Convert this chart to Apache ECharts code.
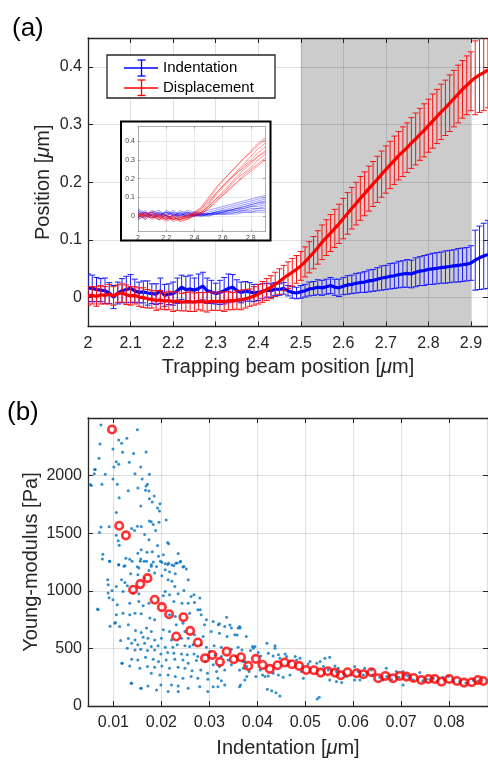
<!DOCTYPE html>
<html><head><meta charset="utf-8">
<script src="https://cdn.jsdelivr.net/npm/echarts@6/dist/echarts.min.js"></script>
<style>html,body{margin:0;padding:0;background:#fff}#c{width:488px;height:761px}</style>
</head><body><div id="c"></div><script>
// ---------- Panel (a) data ----------
const beamPos = [2.00,2.01,2.02,2.03,2.04,2.05,2.06,2.07,2.08,2.09,2.10,2.11,2.12,2.13,2.14,2.15,2.16,2.17,2.18,2.19,
2.20,2.21,2.22,2.23,2.24,2.25,2.26,2.27,2.28,2.29,2.30,2.31,2.32,2.33,2.34,2.35,2.36,2.37,2.38,2.39,
2.40,2.41,2.42,2.43,2.44,2.45,2.46,2.47,2.48,2.49,2.50,2.51,2.52,2.53,2.54,2.55,2.56,2.57,2.58,2.59,
2.60,2.61,2.62,2.63,2.64,2.65,2.66,2.67,2.68,2.69,2.70,2.71,2.72,2.73,2.74,2.75,2.76,2.77,2.78,2.79,
2.80,2.81,2.82,2.83,2.84,2.85,2.86,2.87,2.88,2.89,2.90,2.91,2.92,2.93,2.94];
const dispMean = [0.003,0.004,0.002,0.005,0.004,0.006,0.003,0.007,0.008,0.005,0.003,0.004,0.001,0.000,-0.002,-0.003,-0.005,-0.004,-0.006,-0.005,
-0.007,-0.006,-0.008,-0.007,-0.007,-0.008,-0.006,-0.007,-0.008,-0.006,-0.007,-0.006,-0.007,-0.005,-0.006,-0.004,-0.004,-0.002,0.000,0.003,
0.006,0.010,0.014,0.018,0.023,0.028,0.034,0.039,0.044,0.049,0.055,0.062,0.070,0.078,0.087,0.096,0.104,0.112,0.120,0.128,
0.137,0.146,0.155,0.163,0.172,0.180,0.189,0.197,0.205,0.214,0.222,0.230,0.238,0.246,0.253,0.260,0.268,0.275,0.283,0.290,
0.298,0.306,0.314,0.322,0.329,0.337,0.345,0.353,0.361,0.368,0.375,0.381,0.386,0.390,0.395];
const dispErr = [0.016,0.015,0.017,0.016,0.015,0.017,0.016,0.015,0.016,0.017,0.016,0.015,0.016,0.017,0.016,0.015,0.017,0.016,0.015,0.016,
0.017,0.016,0.015,0.016,0.017,0.016,0.015,0.016,0.017,0.016,0.015,0.016,0.017,0.016,0.015,0.016,0.017,0.016,0.015,0.016,0.017,
0.018,0.019,0.020,0.021,0.022,0.022,0.023,0.024,0.024,0.025,
0.026,0.027,0.028,0.029,0.030,0.031,0.032,0.033,0.034,0.035,
0.036,0.036,0.037,0.038,0.038,0.039,0.039,0.040,0.040,0.041,
0.041,0.042,0.042,0.043,0.043,0.044,0.045,0.045,0.046,0.046,
0.047,0.047,0.048,0.048,0.049,0.049,0.050,0.050,0.051,0.051,
0.064,0.065,0.066,0.066];
const indMean = [0.017,0.016,0.014,0.013,0.012,0.008,0.001,0.008,0.012,0.014,0.016,0.012,0.009,0.010,0.008,0.007,0.006,0.012,0.004,0.006,
0.007,0.012,0.018,0.014,0.015,0.013,0.016,0.020,0.012,0.010,0.007,0.009,0.012,0.016,0.018,0.012,0.009,0.011,0.010,0.008,
0.009,0.011,0.013,0.012,0.015,0.014,0.016,0.012,0.009,0.008,0.010,0.012,0.015,0.016,0.018,0.017,0.019,0.021,0.018,0.017,
0.020,0.022,0.023,0.025,0.026,0.027,0.029,0.030,0.032,0.034,0.035,0.037,0.038,0.040,0.041,0.042,0.041,0.044,0.046,0.047,
0.049,0.050,0.051,0.052,0.053,0.054,0.055,0.056,0.057,0.058,0.060,0.065,0.069,0.072,0.075];
const indErr = [0.024,0.023,0.021,0.020,0.022,0.018,0.020,0.019,0.021,0.023,0.024,0.020,0.018,0.019,0.021,0.017,0.018,0.022,0.019,0.018,
0.020,0.022,0.021,0.023,0.024,0.021,0.025,0.024,0.022,0.020,0.018,0.021,0.023,0.025,0.022,0.019,0.018,0.017,0.016,0.015,
0.014,0.013,0.012,0.012,0.011,0.010,0.010,0.009,0.010,
0.010,0.011,0.011,0.012,0.012,0.013,0.013,0.013,0.014,0.014,0.015,0.015,
0.016,0.016,0.017,0.017,0.018,0.019,0.019,0.020,0.021,0.021,
0.022,0.022,0.023,0.023,0.024,0.024,0.025,0.025,0.026,0.026,
0.027,0.027,0.027,0.028,0.028,0.028,0.029,0.029,0.029,0.030,
0.052,0.055,0.057,0.059];
const shadedRange = [2.5, 2.9];

// ---------- Inset data (individual traces) ----------
const insetPos = [2.00,2.05,2.10,2.15,2.20,2.25,2.30,2.35,2.40,2.45,2.50,2.55,2.60,2.65,2.70,2.75,2.80,2.85,2.90];
const insetDisp = [
 [0.01,-0.01,0.02,0.00,-0.02,0.01,-0.01,0.00,0.01,0.04,0.09,0.14,0.19,0.23,0.27,0.31,0.35,0.39,0.42],
 [-0.01,0.02,0.00,-0.02,0.01,-0.02,0.00,-0.01,0.02,0.05,0.10,0.15,0.19,0.23,0.27,0.31,0.34,0.38,0.41],
 [0.02,0.00,-0.01,0.01,-0.01,0.00,-0.03,-0.01,0.01,0.03,0.07,0.12,0.16,0.20,0.24,0.28,0.32,0.36,0.39],
 [0.00,0.01,-0.02,0.00,0.01,-0.02,-0.01,0.01,0.00,0.02,0.06,0.11,0.15,0.19,0.23,0.27,0.30,0.34,0.37],
 [0.01,-0.02,0.01,-0.01,-0.03,-0.01,-0.02,0.00,0.01,0.02,0.05,0.09,0.13,0.17,0.21,0.25,0.28,0.32,0.35],
 [-0.02,0.00,0.01,-0.01,0.00,-0.03,-0.02,-0.01,0.00,0.02,0.05,0.09,0.12,0.16,0.20,0.23,0.26,0.30,0.33],
 [0.00,0.02,-0.01,0.00,-0.02,0.00,-0.03,-0.02,0.00,0.01,0.04,0.08,0.11,0.15,0.18,0.22,0.25,0.28,0.31],
 [0.01,0.00,0.00,-0.02,-0.01,-0.02,-0.01,-0.02,0.01,0.01,0.04,0.07,0.11,0.14,0.18,0.21,0.24,0.27,0.30],
 [-0.01,0.01,0.02,0.00,-0.02,-0.01,-0.02,0.00,0.02,0.04,0.08,0.12,0.16,0.20,0.23,0.26,0.29,0.32,0.34]
];
const insetInd = [
 [0.03,0.01,0.02,-0.01,0.02,0.00,0.03,0.01,0.02,0.02,0.03,0.04,0.05,0.06,0.07,0.08,0.09,0.10,0.11],
 [-0.01,0.02,0.00,0.01,-0.02,0.01,0.00,0.02,0.00,0.01,0.02,0.03,0.04,0.05,0.06,0.07,0.08,0.09,0.10],
 [0.02,-0.02,0.01,0.02,0.00,-0.01,0.02,-0.01,0.01,0.00,0.01,0.02,0.03,0.04,0.05,0.06,0.07,0.08,0.09],
 [0.00,0.03,-0.01,0.00,0.02,0.01,-0.02,0.01,0.00,0.01,0.01,0.02,0.03,0.03,0.04,0.05,0.06,0.07,0.08],
 [0.04,0.01,0.02,0.03,0.00,0.02,0.01,0.03,0.02,0.01,0.01,0.02,0.02,0.03,0.04,0.05,0.06,0.07,0.075],
 [-0.02,0.00,-0.01,0.01,-0.01,0.00,0.01,-0.01,0.00,0.00,0.01,0.01,0.02,0.03,0.04,0.04,0.05,0.06,0.07],
 [0.01,0.02,0.00,-0.02,0.01,0.03,0.00,0.02,0.01,0.01,0.01,0.02,0.02,0.03,0.03,0.04,0.05,0.05,0.06],
 [0.02,0.00,0.03,0.01,0.02,0.00,0.02,0.00,0.01,0.01,0.01,0.01,0.02,0.02,0.03,0.03,0.04,0.04,0.05],
 [-0.01,0.01,0.00,0.02,0.00,-0.02,0.01,0.00,0.00,0.00,0.00,0.01,0.01,0.02,0.02,0.03,0.03,0.04,0.04],
 [0.03,0.00,0.01,0.00,0.03,0.01,0.00,0.02,0.01,0.00,0.01,0.01,0.01,0.01,0.02,0.02,0.02,0.03,0.03],
 [0.00,-0.01,0.02,0.01,0.00,0.02,-0.01,0.01,0.00,0.01,0.00,0.01,0.01,0.01,0.01,0.02,0.02,0.02,0.02]
];

// ---------- Panel (b) data ----------
const modIndent = [0.0097,0.0112,0.0126,0.0141,0.0156,0.0171,0.0186,0.0201,0.0216,0.0231,0.0246,0.0260,0.0276,0.0291,0.0306,0.0322,0.0336,0.0351,0.0366,0.0381,0.0397,
0.0411,0.0426,0.0442,0.0457,0.0472,0.0487,0.0502,0.0518,0.0532,0.0547,0.0562,0.0574,0.0588,0.0607,0.0621,0.0638,0.0652,0.0667,0.0683,0.0697,
0.0711,0.0726,0.0742,0.0757,0.0770,0.0784,0.0800,0.0816,0.0831,0.0847,0.0860,0.0871];
const modYoung = [2400,1565,1481,1009,1058,1110,922,858,797,603,771,652,551,415,443,383,472,406,423,348,409,356,322,354,377,362,348,313,310,290,
302,290,267,293,284,276,293,241,261,241,261,255,243,226,235,235,211,235,217,203,206,226,217];
const cloudPoints = [
[0.0074,2440],[0.0150,2397],[0.0128,2324],[0.0111,2310],[0.0117,2281],[0.0072,2275],[0.0099,2231],[0.0119,2202],[0.0142,2191],[0.0168,2205],[0.0070,2150],[0.0106,2121],[0.0133,2115],[0.0111,2098],[0.0101,2075],[0.0157,2075],[0.0061,2052],[0.0060,2017],[0.0083,2011],[0.0145,2017],[0.0175,2011],[0.0099,1970],[0.0160,1970],[0.0054,1915],[0.0076,1924],[0.0108,1924],[0.0171,1924],[0.0168,1909],[0.0151,1892],[0.0131,1869],[0.0167,1872],[0.0174,1866],[0.0185,1822],[0.0112,1808],[0.0175,1799],[0.0181,1770],[0.0197,1756],[0.0157,1736],[0.0192,1718],[0.0196,1692],[0.0106,1680],[0.0210,1614],[0.0175,1605],[0.0179,1599],[0.0195,1596],[0.0183,1576],[0.0150,1561],[0.0158,1559],[0.0074,1553],[0.0091,1556],[0.0138,1541],[0.0144,1524],[0.0188,1524],[0.0106,1483],[0.0165,1489],[0.0174,1443],[0.0110,1434],[0.0213,1419],[0.0215,1408],[0.0112,1396],[0.0192,1393],[0.0158,1356],[0.0170,1335],[0.0181,1338],[0.0151,1327],[0.0078,1318],[0.0204,1312],[0.0235,1324],[0.0194,1300],[0.0126,1283],[0.0134,1274],[0.0157,1277],[0.0092,1257],[0.0156,1257],[0.0169,1257],[0.0183,1251],[0.0198,1257],[0.0239,1251],[0.0111,1225],[0.0122,1213],[0.0150,1208],[0.0179,1213],[0.0208,1234],[0.0215,1240],[0.0222,1225],[0.0230,1240],[0.0247,1211],
[0.0052,1922],[0.0062,2052],[0.0067,841],[0.0088,1096],[0.0091,939],[0.0093,692],[0.0071,1506],[0.0077,1277],[0.0118,371],[0.0104,724],[0.0137,197],[0.0157,154],
[0.0092,1256],[0.0111,1229],[0.0124,1218],[0.0139,1256],[0.0153,1198],[0.0164,1256],[0.0179,1227],[0.0190,1212],[0.0201,1247],[0.0213,1229],[0.0226,1218],[0.0233,1241],[0.0240,1256],[0.0245,1206],[0.0252,1189],[0.0208,1183],[0.0217,1166],[0.0229,1148],[0.0174,1177],[0.0186,1154],[0.0201,1131],[0.0136,1148],[0.0151,1140],[0.0165,1111],[0.0117,1096],[0.0124,1073],[0.0106,1038],[0.0097,1003],[0.0089,1053],[0.0129,1044],[0.0120,995],[0.0141,980],[0.0153,974],[0.0214,1096],[0.0222,1082],[0.0228,1038],[0.0256,1096],[0.0247,1003],[0.0208,995],[0.0235,974],[0.0217,966],[0.0262,951],[0.0268,966],[0.0280,937],[0.0099,922],[0.0089,980],[0.0068,835],[0.0108,879],[0.0134,893],[0.0153,908],[0.0162,870],[0.0174,893],[0.0226,908],[0.0243,893],[0.0256,893],[0.0269,899],[0.0276,835],[0.0204,957],[0.0106,792],[0.0120,806],[0.0134,792],[0.0145,806],[0.0158,800],[0.0176,763],[0.0186,748],[0.0217,792],[0.0229,777],[0.0259,806],[0.0283,792],[0.0294,748],[0.0103,719],[0.0113,690],[0.0131,705],[0.0146,655],[0.0158,638],[0.0169,676],[0.0179,647],[0.0204,661],[0.0217,647],[0.0245,719],[0.0249,647],[0.0231,705],[0.0290,705],[0.0308,734],[0.0319,705],[0.0332,690],[0.0346,676],[0.0363,690],[0.0353,618],[0.0337,603],[0.0321,632],[0.0304,647],[0.0287,603],[0.0269,618],[0.0256,589],[0.0242,589],[0.0221,574],[0.0200,589],[0.0186,574],[0.0172,589],[0.0162,597],[0.0145,574],[0.0131,586],[0.0115,568],[0.0138,545],[0.0151,531],[0.0165,545],[0.0179,516],[0.0193,522],[0.0208,510],[0.0224,510],[0.0233,531],[0.0249,522],[0.0259,516],[0.0266,531],[0.0283,531],[0.0294,510],[0.0310,522],[0.0325,510],[0.0346,493],[0.0360,510],[0.0129,502],[0.0145,487],[0.0157,493],[0.0171,481],[0.0186,487],[0.0199,452],[0.0213,464],[0.0226,458],[0.0242,452],[0.0254,444],[0.0268,452],[0.0276,429],[0.0301,473],[0.0312,444],[0.0325,429],[0.0339,400],[0.0356,429],[0.0370,386],[0.0138,406],[0.0151,400],[0.0167,423],[0.0183,406],[0.0194,386],[0.0210,400],[0.0228,406],[0.0245,400],[0.0256,371],[0.0273,394],[0.0292,386],[0.0308,357],[0.0321,342],[0.0346,357],[0.0118,371],[0.0134,348],[0.0155,328],[0.0171,342],[0.0186,336],[0.0201,348],[0.0217,328],[0.0235,336],[0.0249,328],[0.0264,307],[0.0282,313],[0.0296,284],[0.0315,299],[0.0332,313],[0.0363,313],[0.0179,284],[0.0197,270],[0.0214,270],[0.0229,255],[0.0245,241],[0.0262,255],[0.0276,241],[0.0297,232],[0.0318,241],[0.0325,220],[0.0138,197],[0.0158,154],[0.0172,174],[0.0199,183],[0.0221,183],[0.0235,174],[0.0256,154],[0.0280,168],[0.0297,125],[0.0308,168],[0.0318,168],[0.0332,183],[0.0363,168],[0.0235,125],[0.0214,125],[0.0190,139],
[0.0336,771],[0.0321,713],[0.0360,676],[0.0358,617],[0.0281,835],[0.0343,704],[0.0377,603],[0.0392,502],[0.0378,255],
[0.0364,676],[0.0368,487],[0.0371,328],[0.0365,183],[0.0390,516],[0.0395,516],[0.0386,481],[0.0402,464],[0.0407,435],[0.0420,545],[0.0423,458],[0.0437,522],[0.0437,502],[0.0433,435],[0.0444,444],[0.0447,415],[0.0458,452],[0.0461,429],[0.0468,386],[0.0479,429],[0.0482,400],[0.0489,415],[0.0416,255],[0.0423,261],[0.0433,284],[0.0444,270],[0.0454,249],[0.0468,270],[0.0492,299],[0.0496,241],[0.0510,386],[0.0506,365],[0.0524,371],[0.0531,386],[0.0541,415],[0.0551,423],[0.0538,342],[0.0548,313],[0.0562,348],[0.0569,328],[0.0551,226],[0.0565,212],[0.0576,203],[0.0586,255],[0.0603,342],[0.0610,299],[0.0621,270],[0.0624,328],[0.0638,313],[0.0603,226],[0.0614,226],[0.0669,328],[0.0662,226],[0.0676,270],[0.0690,299],[0.0704,299],[0.0704,183],[0.0715,261],[0.0725,226],[0.0739,290],[0.0753,232],[0.0767,241],[0.0787,249],[0.0798,255],[0.0808,226],[0.0822,212],[0.0850,226],[0.0421,145],[0.0430,133],[0.0439,116],[0.0447,87],[0.0525,61],[0.0529,75],[0.0374,386],[0.0378,342],[0.0383,299],[0.0397,255],[0.0374,226],[0.0406,313],[0.0411,270],
[0.0640,270],[0.0655,250],[0.0680,230],[0.0695,250],[0.0720,240],[0.0745,220],[0.0760,230],[0.0775,215],[0.0790,225],[0.0810,210],[0.0835,200],[0.0860,215],[0.0565,300],[0.0580,280],[0.0595,270],[0.0630,290],[0.0670,255],[0.0710,270]
];

// ---------- Tick labels ----------
const aXTicks = [2,2.1,2.2,2.3,2.4,2.5,2.6,2.7,2.8,2.9];
const aYTicks = [0,0.1,0.2,0.3,0.4];
const bXTicks = [0.01,0.02,0.03,0.04,0.05,0.06,0.07,0.08];
const bYTicks = [0,500,1000,1500,2000];
const inXTicks = [2,2.2,2.4,2.6,2.8];
const inYTicks = [0,0.1,0.2,0.3,0.4];

// ---------- Build chart ----------
const FONT = "'Liberation Sans', Arial, Helvetica, sans-serif";
const AX = '#262626';
const GRIDC = 'rgba(38,38,38,0.15)';
const fmt1 = v => (Math.abs(v) < 1e-9 ? '0' : (Math.abs(v - Math.round(v)) < 1e-9 ? String(Math.round(v)) : v.toFixed(1)));
const fmt2 = v => v.toFixed(2);
const fmt0 = v => String(Math.round(v));

function axis(dim, o) {
  const a = {
    type: 'value', gridIndex: o.grid, position: o.pos, min: o.min, max: o.max, z: o.z || 1,
    axisLine: { show: true, onZero: false, lineStyle: { color: o.lineColor || AX, width: o.lineWidth || 1.3 } },
    axisTick: { show: true, inside: true, length: o.tickLen || 5, customValues: o.ticks, lineStyle: { color: o.lineColor || AX, width: 1 } },
    axisLabel: { show: !!o.label, customValues: o.ticks, formatter: o.fmt, fontSize: o.fontSize || 16, color: o.labelColor || AX, fontFamily: FONT, margin: o.margin || 7 },
    splitLine: { show: !!o.split, lineStyle: { color: o.splitColor || GRIDC, width: 1 } }
  };
  if (o.name) {
    a.name = o.name; a.nameLocation = 'middle'; a.nameGap = o.nameGap; a.nameMoveOverlap = false;
    a.nameTextStyle = { fontSize: 20, color: AX, fontFamily: FONT, rich: { mu: { fontSize: 20, fontStyle: 'italic', color: AX, fontFamily: FONT } } };
  }
  return a;
}

function errBars(xs, mean, err, color, xi, yi, z) {
  return {
    type: 'custom', xAxisIndex: xi, yAxisIndex: yi, z: z, clip: true, silent: true,
    encode: { x: 0, y: [1, 2] },
    data: xs.map((x, i) => [x, mean[i] - err[i], mean[i] + err[i]]),
    renderItem: function (params, api) {
      const x = api.value(0);
      const lo = api.coord([x, api.value(1)]);
      const hi = api.coord([x, api.value(2)]);
      const w = 3;
      const st = { stroke: color, lineWidth: 1 };
      return { type: 'group', children: [
        { type: 'line', shape: { x1: lo[0], y1: lo[1], x2: hi[0], y2: hi[1] }, style: st },
        { type: 'line', shape: { x1: lo[0] - w, y1: lo[1], x2: lo[0] + w, y2: lo[1] }, style: st },
        { type: 'line', shape: { x1: hi[0] - w, y1: hi[1], x2: hi[0] + w, y2: hi[1] }, style: st }
      ]};
    }
  };
}

const chart = echarts.init(document.getElementById('c'), null, { renderer: 'canvas' });

const series = [];
series.push({
  type: 'custom', xAxisIndex: 0, yAxisIndex: 0, z: 0, silent: true, clip: true,
  data: [shadedRange],
  renderItem: function (params, api) {
    const p1 = api.coord([api.value(0), 0]);
    const p2 = api.coord([api.value(1), 0]);
    const cs = params.coordSys;
    return { type: 'rect', shape: { x: p1[0], y: cs.y, width: p2[0] - p1[0], height: cs.height }, style: { fill: '#cccccc' } };
  }
});
series.push(errBars(beamPos, indMean, indErr, '#1a1aff', 0, 0, 2));
series.push({ type: 'line', xAxisIndex: 0, yAxisIndex: 0, z: 3, symbol: 'none', silent: true,
  data: beamPos.map((x, i) => [x, indMean[i]]), lineStyle: { color: '#0000ff', width: 3.2 } });
series.push(errBars(beamPos, dispMean, dispErr, '#ff1010', 0, 0, 4));
series.push({ type: 'line', xAxisIndex: 0, yAxisIndex: 0, z: 5, symbol: 'none', silent: true,
  data: beamPos.map((x, i) => [x, dispMean[i]]), lineStyle: { color: '#ff0000', width: 3.2 } });

insetInd.forEach(tr => series.push({ type: 'line', xAxisIndex: 4, yAxisIndex: 4, z: 12, symbol: 'none', silent: true,
  data: insetPos.map((x, i) => [x, tr[i]]), lineStyle: { color: 'rgba(0,0,255,0.55)', width: 0.7 } }));
insetDisp.forEach(tr => series.push({ type: 'line', xAxisIndex: 4, yAxisIndex: 4, z: 13, symbol: 'none', silent: true,
  data: insetPos.map((x, i) => [x, tr[i]]), lineStyle: { color: 'rgba(255,0,0,0.6)', width: 0.7 } }));

series.push({ type: 'scatter', xAxisIndex: 2, yAxisIndex: 2, z: 2, silent: true, symbol: 'circle', symbolSize: 3,
  data: cloudPoints, itemStyle: { color: '#0072bd' } });
series.push({ type: 'scatter', xAxisIndex: 2, yAxisIndex: 2, z: 3, silent: true, symbol: 'circle', symbolSize: 7.5,
  data: modIndent.map((x, i) => [x, modYoung[i]]),
  itemStyle: { color: 'rgba(255,255,255,0)', borderColor: '#ff0000', borderWidth: 2.6 } });

const option = {
  animation: false,
  backgroundColor: '#ffffff',
  textStyle: { fontFamily: FONT },
  grid: [
    { left: 88, top: 38, width: 401, height: 288.5 },
    { left: 88, top: 418, width: 401, height: 288 },
    { left: 138, top: 126.5, width: 127, height: 105, z: 11 }
  ],
  xAxis: [
    axis('x', { grid: 0, pos: 'bottom', min: 2, max: 2.94, ticks: aXTicks, fmt: fmt1, label: true, split: true, margin: 9,
      name: 'Trapping beam position [{mu|μ}m]', nameGap: 31 }),
    axis('x', { grid: 0, pos: 'top', min: 2, max: 2.94, ticks: aXTicks }),
    axis('x', { grid: 1, pos: 'bottom', min: 0.0047, max: 0.0881, ticks: bXTicks, fmt: fmt2, label: true, split: true, margin: 9,
      name: 'Indentation [{mu|μ}m]', nameGap: 32 }),
    axis('x', { grid: 1, pos: 'top', min: 0.0047, max: 0.0881, ticks: bXTicks }),
    axis('x', { grid: 2, pos: 'bottom', min: 2, max: 2.9, ticks: inXTicks, fmt: fmt1, label: true, split: true, z: 11,
      fontSize: 7, margin: 3, tickLen: 2, lineColor: '#9a9a9a', lineWidth: 0.8, labelColor: '#444', splitColor: 'rgba(38,38,38,0.1)' }),
    axis('x', { grid: 2, pos: 'top', min: 2, max: 2.9, ticks: inXTicks, z: 11, tickLen: 2, lineColor: '#9a9a9a', lineWidth: 0.8 })
  ],
  yAxis: [
    axis('y', { grid: 0, pos: 'left', min: -0.05, max: 0.45, ticks: aYTicks, fmt: fmt1, label: true, split: true, margin: 6,
      name: 'Position [{mu|μ}m]', nameGap: 35 }),
    axis('y', { grid: 0, pos: 'right', min: -0.05, max: 0.45, ticks: aYTicks }),
    axis('y', { grid: 1, pos: 'left', min: 0, max: 2500, ticks: bYTicks, fmt: fmt0, label: true, split: true, margin: 6,
      name: 'Young-modulus [Pa]', nameGap: 47 }),
    axis('y', { grid: 1, pos: 'right', min: 0, max: 2500, ticks: bYTicks }),
    axis('y', { grid: 2, pos: 'left', min: -0.084, max: 0.481, ticks: inYTicks, fmt: fmt1, label: true, split: true, z: 11,
      fontSize: 7, margin: 3, tickLen: 2, lineColor: '#9a9a9a', lineWidth: 0.8, labelColor: '#444', splitColor: 'rgba(38,38,38,0.1)' }),
    axis('y', { grid: 2, pos: 'right', min: -0.084, max: 0.481, ticks: inYTicks, z: 11, tickLen: 2, lineColor: '#9a9a9a', lineWidth: 0.8 })
  ],
  graphic: [
    { type: 'text', left: 12, top: 16, z: 30, style: { text: '(a)', fontSize: 26, fill: '#000', fontFamily: FONT } },
    { type: 'text', left: 7, top: 400, z: 30, style: { text: '(b)', fontSize: 26, fill: '#000', fontFamily: FONT } },
    { type: 'rect', z: 10, shape: { x: 121, y: 121.5, width: 149.5, height: 119 }, style: { fill: '#ffffff', stroke: '#000', lineWidth: 2 } },
    { type: 'group', z: 20, children: [
      { type: 'rect', z: 20, shape: { x: 107, y: 55, width: 168, height: 43 }, style: { fill: '#ffffff', stroke: AX, lineWidth: 1.3 } },
      { type: 'line', z: 21, shape: { x1: 124, y1: 68, x2: 158, y2: 68 }, style: { stroke: '#0000ff', lineWidth: 1.3 } },
      { type: 'line', z: 21, shape: { x1: 141.5, y1: 60, x2: 141.5, y2: 76 }, style: { stroke: '#0000ff', lineWidth: 1.3 } },
      { type: 'line', z: 21, shape: { x1: 137.5, y1: 60, x2: 145.5, y2: 60 }, style: { stroke: '#0000ff', lineWidth: 1.3 } },
      { type: 'line', z: 21, shape: { x1: 137.5, y1: 76, x2: 145.5, y2: 76 }, style: { stroke: '#0000ff', lineWidth: 1.3 } },
      { type: 'text', z: 21, x: 163, y: 68, style: { text: 'Indentation', fontSize: 15, fill: '#000', fontFamily: FONT, verticalAlign: 'middle', align: 'left' } },
      { type: 'line', z: 21, shape: { x1: 124, y1: 88, x2: 158, y2: 88 }, style: { stroke: '#ff0000', lineWidth: 1.3 } },
      { type: 'line', z: 21, shape: { x1: 141.5, y1: 80, x2: 141.5, y2: 95.5 }, style: { stroke: '#ff0000', lineWidth: 1.3 } },
      { type: 'line', z: 21, shape: { x1: 137.5, y1: 80, x2: 145.5, y2: 80 }, style: { stroke: '#ff0000', lineWidth: 1.3 } },
      { type: 'line', z: 21, shape: { x1: 137.5, y1: 95.5, x2: 145.5, y2: 95.5 }, style: { stroke: '#ff0000', lineWidth: 1.3 } },
      { type: 'text', z: 21, x: 163, y: 88, style: { text: 'Displacement', fontSize: 15, fill: '#000', fontFamily: FONT, verticalAlign: 'middle', align: 'left' } }
    ]}
  ],
  series: series
};
chart.setOption(option);
</script></body></html>
